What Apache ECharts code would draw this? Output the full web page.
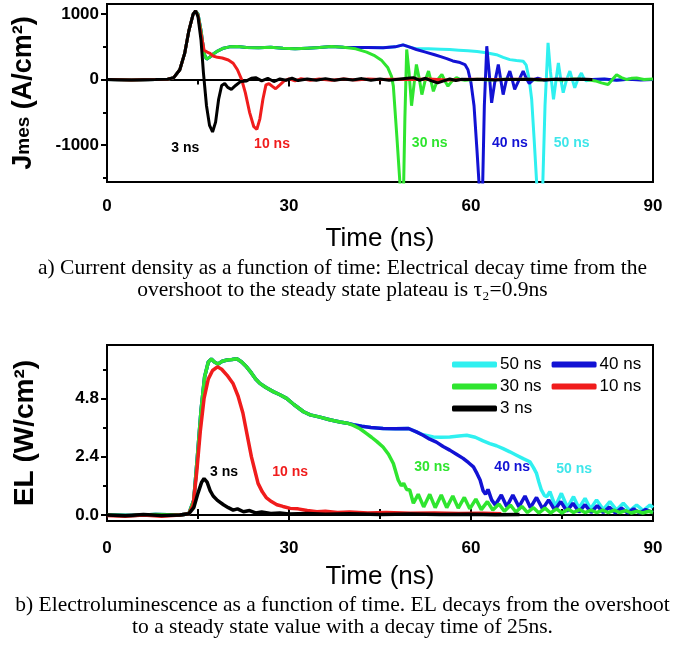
<!DOCTYPE html>
<html>
<head>
<meta charset="utf-8">
<script src="https://cdn.jsdelivr.net/npm/echarts@6/dist/echarts.min.js"></script>
<style>
  html, body { margin: 0; padding: 0; background: #fff; }
  #chart { width: 685px; height: 646px; }
</style>
</head>
<body>
<div id="chart"></div>
<script>
// ---- data: [time (ns), value] ----
const seriesNames = ['50 ns', '40 ns', '30 ns', '10 ns', '3 ns']
const colors = { '50 ns': '#2ff0f0', '40 ns': '#1212d4', '30 ns': '#2fe52f', '10 ns': '#f01c1c', '3 ns': '#000000' }

// a) current density J (A/cm2)
const jRise = [[0, 0], [4, -5], [8, 0], [10, 5], [11, 30], [12, 150], [12.8, 400], [13.5, 750], [14.2, 1000], [14.6, 1050]]
const j3 = [[15.0, 960], [15.5, 600], [15.9, 100], [16.4, -400], [16.9, -700], [17.4, -800], [17.9, -650], [18.4, -300], [18.9, -90], [19.4, -60], [19.9, -120], [20.5, -150], [21.2, -90], [22, -30], [23, -20], [23.8, 20], [24.5, 30], [25.5, -20], [26.5, 20], [27.5, -30], [28.5, 10], [29.5, -10], [30.5, 20], [31.5, -15], [33, 10], [34.5, -10], [36, 15], [37.5, -10], [39, 10], [40.5, -5], [42, 15], [43.5, -10], [45, 10], [46.5, -10], [48, 5], [49.5, 20], [50.5, 30], [51.5, -10], [52.5, 20], [53.5, -20], [54.5, -50], [55.5, -20], [56.5, 10], [57.5, -15], [58.5, 5], [60, 0], [62, 5], [64, -5], [66, 5], [68, 0], [70, 5], [72, -5], [74, 5], [76, 0], [78, 5], [80, 0]]
const j10 = [[15.0, 980], [15.5, 700], [16.0, 450], [16.5, 420], [17.0, 400], [17.5, 360], [18.2, 340], [19.0, 330], [20.0, 300], [20.8, 250], [21.5, 150], [22.2, 0], [22.8, -200], [23.5, -500], [24.2, -720], [24.7, -760], [25.2, -600], [25.7, -300], [26.2, -80], [26.7, -60], [27.2, -100], [27.8, -140], [28.4, -90], [29.2, -20], [30, 10], [31, -20], [32, 15], [33.5, -10], [35, 10], [37, -10], [39, 10], [41, -5], [43, 10], [45, 0], [47, 5], [50, 0], [53, 10], [56, -5], [60, 5], [64, 0], [68, 5], [72, 0], [76, 5], [80, 0]]
const jPlateau = [[15.0, 1000], [15.5, 750], [16.0, 400], [16.4, 310], [16.9, 340], [17.5, 390], [18.3, 440], [19.2, 480], [20.2, 500], [21.5, 505], [23, 490], [25, 485], [27, 495], [29, 480], [31, 470], [33, 480], [35, 490], [37, 505], [39, 495]]
const j30 = [[41, 470], [42.8, 420], [44, 370], [45.3, 290], [46.3, 180], [46.9, 50], [47.2, -100], [47.8, -900], [48.3, -1600], [48.6, -1750], [48.9, -1600], [49.1, -600], [49.4, 460], [49.8, 100], [50.2, -400], [50.6, -80], [51.0, 230], [51.5, 0], [51.9, -230], [52.4, -30], [53.0, 130], [53.4, -20], [53.8, -180], [54.5, 0], [55.2, 80], [55.7, -20], [56.2, -100], [56.9, -20], [57.6, 30], [58.3, 0], [59, -10], [61, 5], [63, -5], [65, 5], [67, 0], [69, 5], [71, -5], [73, 5], [75, -5], [77, 10], [79, 0], [80.5, -20], [81.5, -50], [82.6, -75], [83.3, 0], [84, 75], [84.8, 30], [85.7, 0], [86.5, 20], [87.3, 25], [88.5, 0], [90, 10]]
const j40head = [[41, 490], [43, 490], [45.5, 485], [47.5, 500], [48.8, 530], [49.8, 500]]
const j40 = [[51, 460], [52.5, 420], [54, 380], [55, 350], [56, 320], [57, 285], [58.2, 260], [59, 230], [59.5, 150], [60, -50], [60.5, -400], [61, -1100], [61.4, -1700], [61.9, -1700], [62.2, -400], [62.6, 510], [63.0, 100], [63.4, -355], [63.9, -50], [64.5, 230], [64.9, 0], [65.3, -230], [65.8, -20], [66.4, 130], [66.8, 0], [67.2, -150], [67.9, -10], [68.6, 130], [69.1, 20], [69.6, -60], [70.3, 0], [71, 20], [72, -5], [74, 5], [76, 0], [78, 5], [80, 0], [82, 10], [84, -10], [86, 5], [88, -5], [90, 0]]
const j50 = [[51, 470], [53, 470], [55, 465], [56.5, 458], [58, 450], [59.5, 440], [61, 430], [62.5, 410], [64.2, 380], [65.3, 340], [66.4, 305], [67.5, 290], [68.6, 280], [69.1, 220], [69.6, 0], [70, -300], [70.4, -900], [70.9, -1700], [71.8, -1700], [72.2, -400], [72.7, 560], [73.1, 120], [73.6, -300], [74, -20], [74.4, 255], [74.8, 0], [75.2, -200], [75.7, -20], [76.3, 130], [76.7, 0], [77.1, -125], [77.6, 0], [78.2, 100], [78.6, 20], [79, -20], [80, 0], [82, 5], [84, -5], [86, 5], [88, 0], [90, 0]]

// b) electroluminescence EL (W/cm2)
const el3 = [[0, 0], [3, -0.03], [6, 0.02], [9, -0.02], [12, 0], [13.5, 0.05], [14.3, 0.3], [15.0, 0.9], [15.6, 1.35], [16.0, 1.5], [16.5, 1.35], [17.0, 1.0], [17.5, 0.78], [18.2, 0.6], [19.2, 0.42], [20.0, 0.3], [20.8, 0.2], [21.5, 0.25], [22.5, 0.13], [23.5, 0.18], [24.5, 0.08], [25.5, 0.12], [27, 0.06], [28.5, 0.08], [30, 0.04], [33, 0.06], [36, 0.03], [40, 0.05], [45, 0.02], [50, 0.04], [55, 0.02], [60, 0.03], [64, 0.01], [68, 0.02]]
const el10 = [[0, -0.02], [3, -0.05], [6, 0], [9, -0.05], [12, 0], [13.5, 0.05], [14.2, 0.4], [14.8, 1.8], [15.4, 3.5], [16.0, 4.8], [16.7, 5.6], [17.4, 5.95], [18.2, 6.1], [18.9, 6.0], [19.8, 5.75], [20.8, 5.4], [21.6, 4.9], [22.4, 4.2], [23.1, 3.3], [23.8, 2.4], [24.4, 1.8], [24.9, 1.3], [25.6, 0.95], [26.3, 0.7], [27.1, 0.55], [28, 0.42], [29, 0.35], [30.2, 0.27], [31.5, 0.25], [33, 0.18], [34.6, 0.13], [36, 0.15], [38, 0.1], [40, 0.12], [43, 0.08], [46, 0.1], [50, 0.07], [54, 0.08], [58, 0.06], [62, 0.07], [65, 0.05]]
const elCommon = [[0, 0], [4, -0.02], [8, 0.02], [12, 0], [13.5, 0.05], [14.3, 0.6], [14.9, 2.4], [15.5, 4.3], [16.1, 5.7], [16.7, 6.3], [17.2, 6.42], [17.7, 6.3], [18.3, 6.22], [19.0, 6.33], [19.8, 6.38], [20.6, 6.4], [21.4, 6.43], [22.2, 6.3], [23.0, 6.1], [23.8, 5.85], [24.5, 5.6], [25.2, 5.42], [26.2, 5.25], [27.4, 5.08], [28.5, 4.95], [29.6, 4.8], [30.8, 4.55], [32.4, 4.25], [33.5, 4.12], [35.1, 4.03], [36.7, 3.92], [38.4, 3.83], [39.6, 3.78]]
const el30 = [[40.6, 3.69], [41.7, 3.55], [42.8, 3.35], [43.6, 3.2], [44.5, 3.02], [45.5, 2.8], [46.4, 2.5], [47.2, 2.12], [48, 1.44], [48.5, 1.2], [48.9, 1.3], [49.4, 1.05], [49.9, 1.03], [50.5, 0.48], [51.3, 0.85], [52.2, 0.33], [53.2, 0.85], [54.1, 0.3], [55.1, 0.82], [56, 0.3], [57, 0.78], [57.9, 0.28], [58.9, 0.72], [59.8, 0.25], [60.8, 0.65], [61.7, 0.22], [62.7, 0.55], [63.6, 0.2], [64.6, 0.45], [65.5, 0.15], [66.5, 0.4], [67.4, 0.12], [68.4, 0.35], [69.3, 0.1], [70.3, 0.3], [71.2, 0.08], [72.2, 0.28], [73.1, 0.08], [74.1, 0.25], [75, 0.08], [76, 0.24], [76.9, 0.1], [77.9, 0.22], [78.8, 0.1], [79.8, 0.2], [80.7, 0.1], [81.7, 0.2], [82.6, 0.1], [83.6, 0.2], [84.5, 0.1], [85.5, 0.18], [86.4, 0.08], [87.4, 0.15], [88.3, 0.08], [89.3, 0.15], [90, 0.1]]
const el40head = [[40.6, 3.72], [42, 3.65], [43.5, 3.6], [45.5, 3.56], [47.5, 3.55], [49.7, 3.56], [51, 3.42]]
const el40 = [[52.1, 3.28], [53.2, 3.12], [54.3, 3.0], [55.4, 2.82], [56.5, 2.67], [57.6, 2.5], [58.7, 2.33], [59.6, 2.15], [60.4, 1.98], [61, 1.7], [61.5, 1.44], [62, 1.0], [62.4, 0.85], [62.8, 1.05], [63.4, 0.62], [64, 0.41], [65, 0.82], [65.9, 0.34], [66.9, 0.82], [67.9, 0.33], [68.9, 0.78], [69.8, 0.3], [70.8, 0.72], [71.8, 0.25], [72.8, 0.62], [73.8, 0.2], [74.8, 0.55], [75.8, 0.15], [76.8, 0.48], [77.8, 0.12], [78.8, 0.42], [79.8, 0.1], [80.8, 0.38], [81.8, 0.1], [82.8, 0.32], [83.8, 0.08], [84.8, 0.28], [85.8, 0.08], [86.8, 0.25], [87.8, 0.08], [88.8, 0.22], [90, 0.1]]
const el50 = [[52.1, 3.3], [53.8, 3.21], [55, 3.2], [56.5, 3.21], [58, 3.25], [59.3, 3.28], [60.7, 3.2], [62, 3.05], [63.1, 2.94], [64.2, 2.85], [65.3, 2.73], [66.4, 2.6], [67.5, 2.46], [68.6, 2.32], [69.7, 2.19], [70.3, 1.95], [70.8, 1.71], [71.2, 1.35], [71.6, 1.03], [72.1, 0.8], [72.5, 0.75], [73, 0.96], [73.9, 0.35], [74.9, 0.89], [75.9, 0.3], [76.9, 0.75], [77.8, 0.28], [78.8, 0.68], [79.7, 0.25], [80.7, 0.62], [81.8, 0.22], [82.9, 0.55], [84, 0.2], [85.1, 0.48], [86.2, 0.18], [87.3, 0.41], [88.4, 0.18], [89.5, 0.41], [90, 0.3]]

// curve annotations: [time, value]
const jLabels = { '3 ns': [12.9, -1040], '10 ns': [27.2, -990], '30 ns': [53.2, -970], '40 ns': [66.4, -970], '50 ns': [76.6, -970] }
const elLabels = { '3 ns': [19.3, 1.76], '10 ns': [30.2, 1.76], '30 ns': [53.6, 1.97], '40 ns': [66.8, 1.97], '50 ns': [77, 1.89] }

const jTicks = [-1000, 0, 1000]
const jMinor = [-1500, -500, 500]
const elTicks = [0, 2.4, 4.8]
const elMinor = [1.2, 3.6, 6.0]

const captionA = ['a) Current density as a function of time: Electrical decay time from the', 'overshoot to the steady state plateau is τ₂=0.9ns']
const captionB = ['b) Electroluminescence as a function of time. EL decays from the overshoot', 'to a steady state value with a decay time of 25ns.']

const jData = {
  '3 ns': jRise.concat(j3),
  '10 ns': jRise.concat(j10),
  '30 ns': jRise.concat(jPlateau, j30),
  '40 ns': jRise.concat(jPlateau, j40head, j40),
  '50 ns': jRise.concat(jPlateau, j40head, j50),
}
const elData = {
  '3 ns': el3,
  '10 ns': el10,
  '30 ns': elCommon.concat(el30),
  '40 ns': elCommon.concat(el40head, el40),
  '50 ns': elCommon.concat(el40head, el50),
}

const font = 'Liberation Sans, Arial, sans-serif'
const serif = 'Liberation Serif, Times New Roman, serif'

const makeSeries = (name, data, idx, label, width) => ({
  name: name,
  type: 'line',
  xAxisIndex: idx,
  yAxisIndex: idx * 2,
  data: data,
  showSymbol: false,
  symbol: 'none',
  clip: true,
  lineStyle: { color: colors[name], width: width },
  itemStyle: { color: colors[name] },
  markPoint: {
    symbol: 'circle',
    symbolSize: 1,
    itemStyle: { color: 'rgba(0,0,0,0)' },
    data: [{ coord: label }],
    label: {
      show: true,
      position: 'inside',
      formatter: name,
      color: colors[name] === '#2ff0f0' ? '#3fe6ea' : colors[name],
      fontSize: 14,
      fontWeight: 'bold',
      fontFamily: font,
    },
  },
})

const series = []
seriesNames.forEach(n => series.push(makeSeries(n, jData[n], 0, jLabels[n], 3)))
seriesNames.forEach(n => series.push(makeSeries(n, elData[n], 1, elLabels[n], 3.5)))

const axLabel = { fontSize: 17, fontWeight: 'bold', fontFamily: font, color: '#000' }
const axLine = { show: true, lineStyle: { color: '#000', width: 2 } }
const tickStyle = { width: 2, color: '#000' }

// caption lines as centered texts
const captionText = (lines, top) => lines.map((t, i) => ({
  type: 'text', left: 'center', top: top + i * 22,
  style: { text: t, font: '21.5px ' + serif, fill: '#000' },
}))

let myChart = echarts.init(document.getElementById('chart'))
let option = {
  animation: false,
  grid: [
    { left: 107, top: 4, width: 546, height: 178, show: true, borderColor: '#000', borderWidth: 2, containLabel: false, outerBoundsMode: 'none' },
    { left: 107, top: 345, width: 546, height: 176, show: true, borderColor: '#000', borderWidth: 2, containLabel: false, outerBoundsMode: 'none' },
  ],
  legend: [
    { data: ['50 ns', '40 ns'], left: 452, top: 356 },
    { data: ['30 ns', '10 ns'], left: 452, top: 378 },
    { data: ['3 ns'], left: 452, top: 400 },
  ].map(l => Object.assign(l, {
    orient: 'horizontal', icon: 'roundRect', itemWidth: 45, itemHeight: 6, itemGap: 10, padding: 0,
    textStyle: { fontSize: 17, fontFamily: font, color: '#000', padding: [0, 0, 0, -2] },
  })),
  xAxis: [
    {
      gridIndex: 0, type: 'value', min: 0, max: 90, interval: 30,
      name: 'Time (ns)', nameLocation: 'middle', nameGap: 44,
      nameTextStyle: { fontSize: 26, fontFamily: font, color: '#000' },
      axisLine: axLine,
      axisTick: { inside: false, length: 7, lineStyle: tickStyle },
      minorTick: { show: true, splitNumber: 2, length: 5, lineStyle: tickStyle },
      axisLabel: Object.assign({ margin: 16 }, axLabel),
      splitLine: { show: false },
    },
    {
      gridIndex: 1, type: 'value', min: 0, max: 90, interval: 30,
      name: 'Time (ns)', nameLocation: 'middle', nameGap: 43,
      nameTextStyle: { fontSize: 26, fontFamily: font, color: '#000' },
      axisLine: axLine,
      axisTick: { inside: false, length: 6, lineStyle: tickStyle },
      minorTick: { show: true, splitNumber: 2, length: 4, lineStyle: tickStyle },
      axisLabel: Object.assign({ margin: 19 }, axLabel),
      splitLine: { show: false },
    },
    {
      gridIndex: 1, type: 'value', min: 0, max: 90, interval: 15, position: 'top',
      axisLine: axLine,
      axisTick: { inside: false, length: 6, lineStyle: tickStyle },
      axisLabel: { show: false },
      splitLine: { show: false },
    },
  ],
  yAxis: [
    {
      gridIndex: 0, type: 'value', min: -1565, max: 1155, position: 'left',
      name: 'J{s|mes} (A/cm²)', nameLocation: 'middle', nameGap: 70,
      nameTextStyle: { fontSize: 27, fontWeight: 'bold', fontFamily: font, color: '#000', rich: { s: { fontSize: 19, fontWeight: 'bold', fontFamily: font, color: '#000' } } },
      axisLine: axLine,
      axisTick: { inside: false, length: 6, customValues: jTicks, lineStyle: tickStyle },
      axisLabel: Object.assign({ margin: 8, customValues: jTicks, formatter: v => String(v) }, axLabel),
      splitLine: { show: false },
    },
    {
      gridIndex: 0, type: 'value', min: -1565, max: 1155, position: 'left',
      axisLine: { show: false },
      axisTick: { show: true, inside: false, length: 4, customValues: jMinor, lineStyle: tickStyle },
      axisLabel: { show: false },
      splitLine: { show: false },
    },
    {
      gridIndex: 1, type: 'value', min: -0.25, max: 7.0, position: 'left',
      name: 'EL (W/cm²)', nameLocation: 'middle', nameGap: 68,
      nameTextStyle: { fontSize: 28, fontWeight: 'bold', fontFamily: font, color: '#000' },
      axisLine: axLine,
      axisTick: { inside: false, length: 6, customValues: elTicks, lineStyle: tickStyle },
      axisLabel: Object.assign({ margin: 8, customValues: elTicks, formatter: v => v.toFixed(1) }, axLabel),
      splitLine: { show: false },
    },
    {
      gridIndex: 1, type: 'value', min: -0.25, max: 7.0, position: 'left',
      axisLine: { show: false },
      axisTick: { show: true, inside: false, length: 4, customValues: elMinor, lineStyle: tickStyle },
      axisLabel: { show: false },
      splitLine: { show: false },
    },
  ],
  graphic: captionText(captionA, 257).concat(captionText(captionB, 594)),
  series: series,
}
myChart.setOption(option)
</script>
</body>
</html>
